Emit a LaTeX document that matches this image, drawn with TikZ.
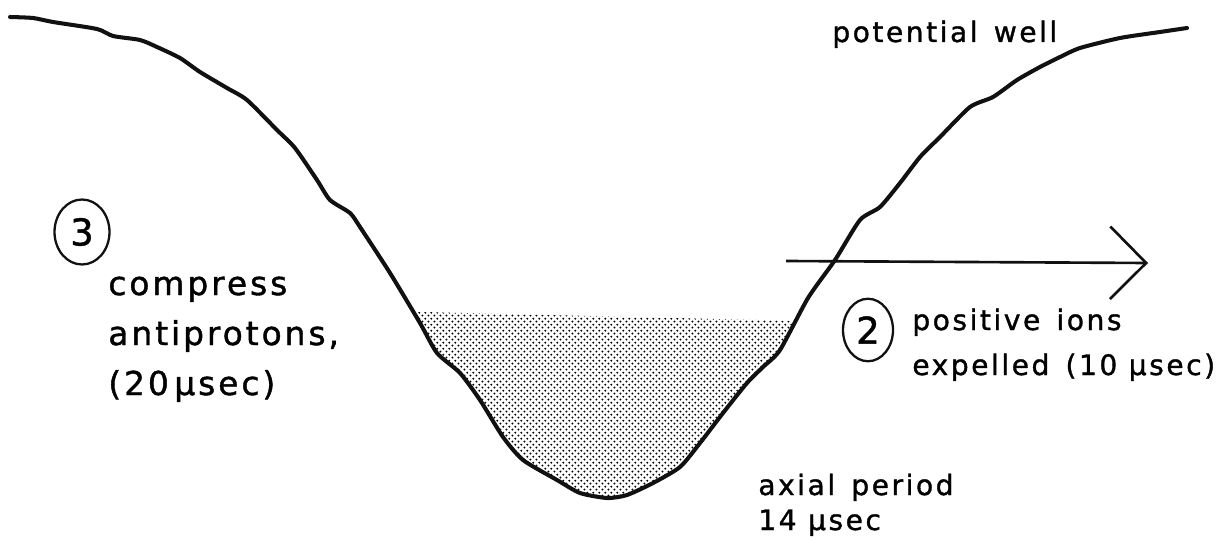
\documentclass[tikz,border=0pt]{standalone}
\usepackage{fontspec}
\setmainfont{DejaVu Sans}[LetterSpace=9, FakeBold=1.2]
\usepackage{tikz}
\usetikzlibrary{shapes.geometric, arrows.meta, patterns, positioning}
\definecolor{ink}{HTML}{111111}
\pgfdeclarepatternformonly{welldots}{\pgfpointorigin}{\pgfqpoint{3.6pt}{3.6pt}}{\pgfqpoint{3.6pt}{3.6pt}}{
  \pgfpathcircle{\pgfqpoint{0.9pt}{0.9pt}}{0.68pt}
  \pgfpathcircle{\pgfqpoint{2.7pt}{2.7pt}}{0.68pt}
  \pgfusepath{fill}
}
\tikzset{
  wellline/.style={line width=2.3pt, color=ink, line join=round, line cap=round},
  stagemark/.style={
    ellipse, draw=ink, line width=1.3pt,
    minimum width=1.1cm, minimum height=1.3cm, inner sep=0pt,
    font=\fontsize{21}{21}\selectfont,
  },
  bigtext/.style={anchor=base west, inner sep=0pt, align=left, font=\fontsize{18.7}{28.45}\selectfont},
  smalltext/.style={anchor=base west, inner sep=0pt, align=left, font=\fontsize{16}{25.6}\selectfont},
  arrow/.style={-{Straight Barb[length=0.72cm, width=1.45cm, line width=1.5pt]}, line width=1.5pt, color=ink},
}
\begin{document}
\begin{tikzpicture}[x=0.02cm, y=-0.02cm]
  \useasboundingbox (0,0) rectangle (1230,547);

  % the well
  \path[save path=\wellpath] plot[smooth, tension=0.4] coordinates {
    (10,17) (33,18) (53,22) (97,29) (113,36) (140,40) (157,47) (180,58)
    (200,72) (227,88) (247,100) (277,130) (295,148) (317,180) (330,200)
    (350,213) (360,227) (390,273) (420,323) (437,353) (460,373) (480,400)
    (503,437) (523,460) (557,480) (580,493) (607,498) (627,495) (653,483)
    (680,467) (700,443) (723,413) (747,383) (763,367) (780,350) (808,298)
    (835,260) (860,220) (880,207) (900,183) (920,157) (940,137) (970,107)
    (993,97) (1017,80) (1040,67) (1060,57) (1080,48) (1120,38) (1160,32)
    (1187,28)};
  \begin{scope}
    \clip (380,311) -- (800,321) -- (800,547) -- (380,547) -- cycle;
    \fill[pattern=welldots, use path=\wellpath];
  \end{scope}
  \draw[wellline, use path=\wellpath];

  \node[smalltext] (wellname) at (832,42) {potential\, well};

  \node[stagemark] (stagethree) at (82,232) {3};
  \node[bigtext] (compresstext) at (108,395) {compress\\antiprotons,\\(20\,μsec)};

  \node[stagemark, minimum width=1.0cm, minimum height=1.25cm] (stagetwo) at (868,330) {2};
  \node[smalltext] (ionstext) at (912,375) {positive\, ions\\expelled\, (10 μsec)};

  \node[smalltext, font=\fontsize{16}{19.9}\selectfont] (periodtext) at (758,530) {axial\, period\\14 μsec};

  \coordinate (ionstart) at (786,261);
  \coordinate (iontip) at (1148,263);
  \draw[arrow] (ionstart) -- (iontip);

\end{tikzpicture}
\end{document}
